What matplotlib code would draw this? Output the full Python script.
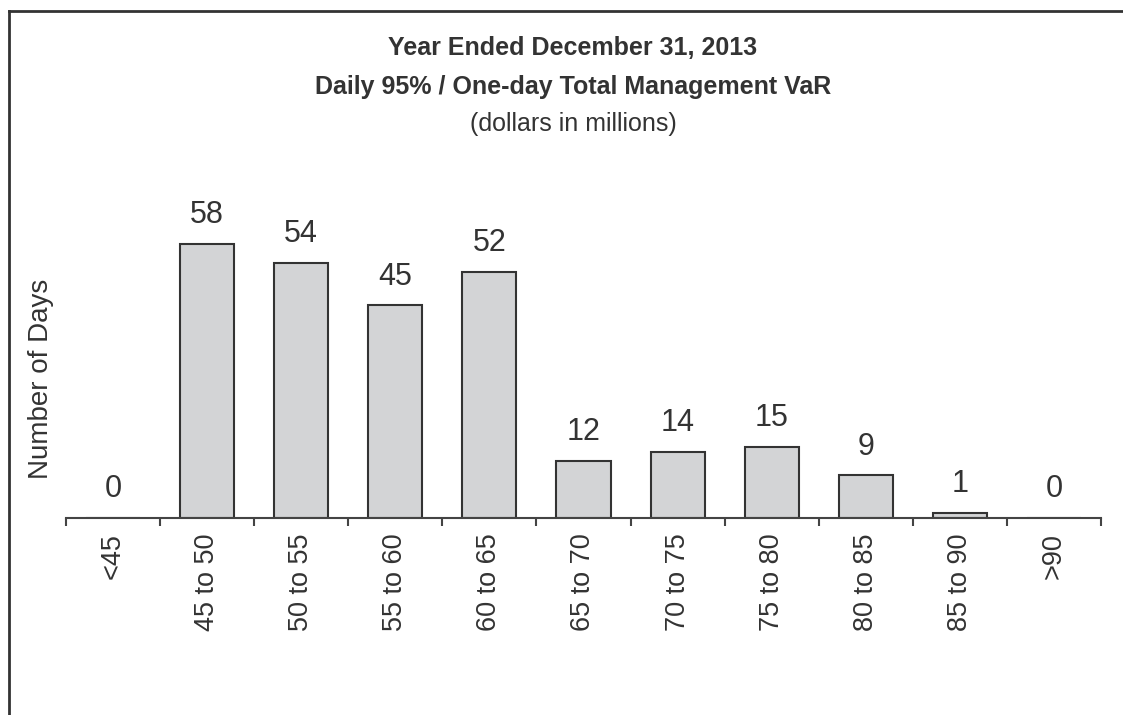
import matplotlib.pyplot as plt
import numpy as np
from matplotlib.lines import Line2D

# VaR buckets and number of days
buckets = ['<45', '45 to 50', '50 to 55', '55 to 60', '60 to 65', '65 to 70',
           '70 to 75', '75 to 80', '80 to 85', '85 to 90', '>90']
days = [0, 58, 54, 45, 52, 12, 14, 15, 9, 1, 0]

plt.rcParams['font.family'] = ['Liberation Sans', 'DejaVu Sans']
txt = '#333333'

fig = plt.figure(figsize=(11.23, 7.15), dpi=100)
W, H = 1123, 715
# axes placed in pixel terms of the reference
ax = fig.add_axes([66 / W, (H - 518) / H, (1101 - 66) / W, (518 - 150) / H])

x = np.arange(len(buckets))
ax.bar(x, days, width=0.575, color='#d3d4d6', edgecolor='#333333', linewidth=1.5)
for xi, v in zip(x, days):
    ax.annotate(str(v), (xi, v), xytext=(0, 10), textcoords='offset points',
                ha='center', va='bottom', fontsize=22, color=txt)

ax.set_xlim(-0.5, len(buckets) - 0.5)
ax.set_ylim(0, (518 - 150) / (274 / 58))
for s in ['top', 'right', 'left']:
    ax.spines[s].set_visible(False)
ax.spines['bottom'].set_color('#444444')
ax.spines['bottom'].set_linewidth(1.5)
ax.set_yticks([])
ax.set_xticks(x)
ax.set_xticklabels(buckets, rotation=90, fontsize=19.5, color=txt)
ax.tick_params(axis='x', which='major', length=0, pad=11)
ax.set_xticks(np.arange(-0.5, len(buckets)), minor=True)
ax.tick_params(axis='x', which='minor', direction='out', length=6, width=1.5, color='#444444')

fig.text(41 / W, 1 - 379 / H, 'Number of Days', rotation=90, ha='center', va='center',
         fontsize=20, color=txt)

fig.text(573 / W, 1 - 48 / H, 'Year Ended December 31, 2013', ha='center', va='center',
         fontsize=18, fontweight='bold', color=txt)
fig.text(573 / W, 1 - 87 / H, 'Daily 95% / One-day Total Management VaR', ha='center', va='center',
         fontsize=18, fontweight='bold', color=txt)
fig.text(573 / W, 1 - 124 / H, '(dollars in millions)', ha='center', va='center',
         fontsize=18, color=txt)

# frame lines on the top and left edges
fig.add_artist(Line2D([9 / W, 9 / W], [0, 1 - 11 / H], transform=fig.transFigure, color='#333333', lw=2))
fig.add_artist(Line2D([9 / W, 1], [1 - 11 / H, 1 - 11 / H], transform=fig.transFigure, color='#333333', lw=2))

fig.savefig('out.png', dpi=100)
